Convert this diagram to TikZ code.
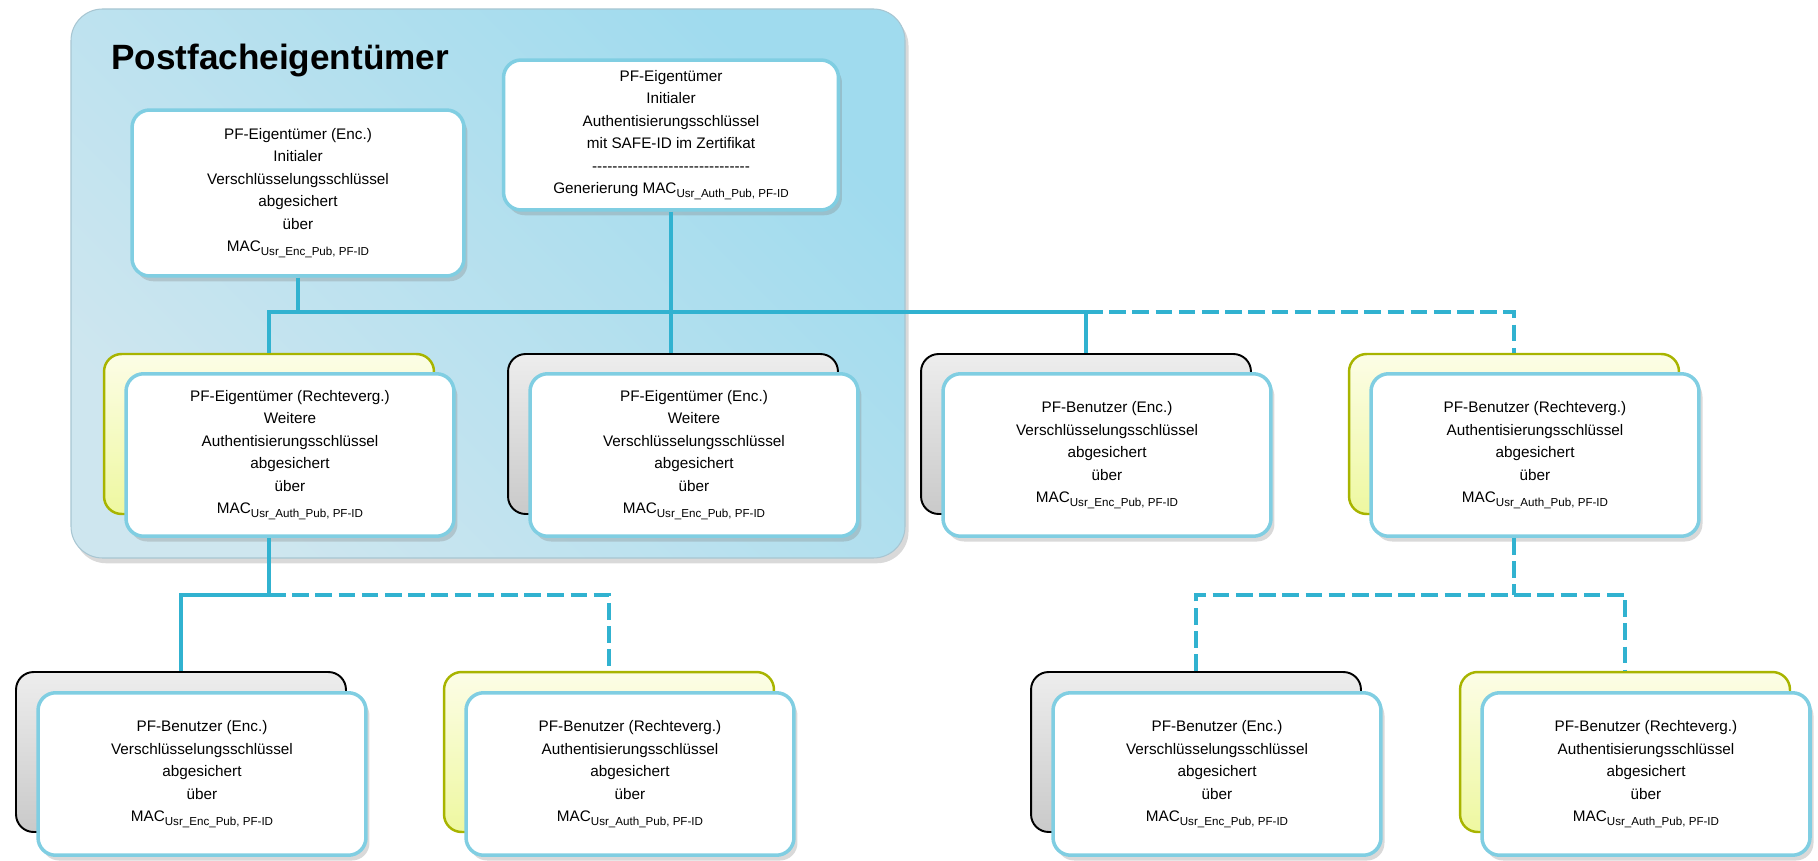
\documentclass[tikz,border=0pt]{standalone}
\usepackage{fontspec}
\setmainfont{Liberation Sans}
\usetikzlibrary{shadows}

\definecolor{linkblue}{RGB}{49,178,208}
\definecolor{cardedge}{RGB}{128,206,226}
\definecolor{yelledge}{RGB}{168,180,0}
\definecolor{yelltop}{RGB}{252,253,230}
\definecolor{yellbot}{RGB}{238,248,160}
\definecolor{grptop}{RGB}{160,219,238}
\definecolor{grpbot}{RGB}{206,230,239}
\definecolor{grpedge}{RGB}{168,198,210}

\newcommand{\macsub}[1]{MAC\raisebox{-0.45ex}{\fontsize{6.6}{7}\selectfont #1}}
\newcommand{\dashrow}{\foreach \n in {1,...,31}{\mbox{-}}}

\begin{document}
\begin{tikzpicture}[x=0.02cm, y=-0.02cm,
  every node/.style={font=\fontsize{8.7}{12.8}\selectfont},
  card/.style={draw=cardedge, line width=2pt, fill=white, rounded corners=10pt,
    minimum width=6.56cm, minimum height=3.25cm, align=center, inner sep=2pt,
    drop shadow={shadow xshift=2pt, shadow yshift=-3pt, opacity=0.3}},
  grayback/.style={draw=black, line width=1.1pt, top color=gray!14, bottom color=gray!42,
    rounded corners=10pt, minimum width=6.6cm, minimum height=3.2cm},
  yellback/.style={draw=yelledge, line width=1.4pt, top color=yelltop, bottom color=yellbot,
    rounded corners=10pt, minimum width=6.6cm, minimum height=3.2cm},
  link/.style={draw=linkblue, line width=2.6pt},
  dashline/.style={dash pattern=on 9.5pt off 3.7pt}]
\useasboundingbox (0,0) rectangle (1818,861);

% Group of the owner
\draw[draw=grpedge, line width=0.6pt, top color=grptop, bottom color=grpbot, shading angle=-45,
  rounded corners=18pt, drop shadow={shadow xshift=2pt, shadow yshift=-3pt, opacity=0.3}]
  (71,9) rectangle (905,558);
\node[anchor=base west, font=\fontsize{20}{24}\selectfont\bfseries] (title) at (105,70) {Postfacheigentümer};

% Initial keys
\node[card, minimum width=6.64cm, minimum height=3.32cm] (initEnc) at (298,193)
  {PF-Eigentümer (Enc.)\\Initialer\\Verschlüsselungsschlüssel\\abgesichert\\über\\\macsub{Usr\_Enc\_Pub, PF-ID}};
\node[card, minimum width=6.7cm, minimum height=3.0cm] (initAuth) at (671,135)
  {PF-Eigentümer\\Initialer\\Authentisierungsschlüssel\\mit SAFE-ID im Zertifikat\\\dashrow\\Generierung \macsub{Usr\_Auth\_Pub, PF-ID}};

% Second row
\node[yellback] (ownAuthBk) at (269,434) {};
\node[card] (ownAuth) at (290,455)
  {PF-Eigentümer (Rechteverg.)\\Weitere\\Authentisierungsschlüssel\\abgesichert\\über\\\macsub{Usr\_Auth\_Pub, PF-ID}};
\node[grayback] (ownEncBk) at (673,434) {};
\node[card] (ownEnc) at (694,455)
  {PF-Eigentümer (Enc.)\\Weitere\\Verschlüsselungsschlüssel\\abgesichert\\über\\\macsub{Usr\_Enc\_Pub, PF-ID}};
\node[grayback] (usrEncBk) at (1086,434) {};
\node[card] (usrEnc) at (1107,455)
  {PF-Benutzer (Enc.)\\Verschlüsselungsschlüssel\\abgesichert\\über\\\macsub{Usr\_Enc\_Pub, PF-ID}};
\node[yellback] (usrAuthBk) at (1514,434) {};
\node[card] (usrAuth) at (1535,455)
  {PF-Benutzer (Rechteverg.)\\Authentisierungsschlüssel\\abgesichert\\über\\\macsub{Usr\_Auth\_Pub, PF-ID}};

% Third row
\node[grayback] (subEncLBk) at (181,752) {};
\node[card] (subEncL) at (202,774)
  {PF-Benutzer (Enc.)\\Verschlüsselungsschlüssel\\abgesichert\\über\\\macsub{Usr\_Enc\_Pub, PF-ID}};
\node[yellback] (subAuthLBk) at (609,752) {};
\node[card] (subAuthL) at (630,774)
  {PF-Benutzer (Rechteverg.)\\Authentisierungsschlüssel\\abgesichert\\über\\\macsub{Usr\_Auth\_Pub, PF-ID}};
\node[grayback] (subEncRBk) at (1196,752) {};
\node[card] (subEncR) at (1217,774)
  {PF-Benutzer (Enc.)\\Verschlüsselungsschlüssel\\abgesichert\\über\\\macsub{Usr\_Enc\_Pub, PF-ID}};
\node[yellback] (subAuthRBk) at (1625,752) {};
\node[card] (subAuthR) at (1646,774)
  {PF-Benutzer (Rechteverg.)\\Authentisierungsschlüssel\\abgesichert\\über\\\macsub{Usr\_Auth\_Pub, PF-ID}};

% Connectors
\coordinate (bus) at (0,312);
\coordinate (low) at (0,595);
\draw[link] (initEnc.south) -- (initEnc.south |- bus);
\draw[link] (initAuth.south) -- (initAuth.south |- ownEncBk.north);
\draw[link] (ownAuthBk.north) -- (ownAuthBk.north |- bus) -- (usrEncBk.north |- bus) -- (usrEncBk.north);
\draw[link, dashline] (usrEncBk.north |- bus) -- (usrAuthBk.north |- bus) -- (usrAuthBk.north);

\draw[link] (ownAuthBk.north |- ownAuth.south) -- (ownAuthBk.north |- low) -- (subEncLBk.north |- low) -- (subEncLBk.north);
\draw[link, dashline] (ownAuthBk.north |- low) -- (subAuthLBk.north |- low) -- (subAuthLBk.north);

\draw[link, dashline] (usrAuthBk.north |- usrAuth.south) -- (usrAuthBk.north |- low);
\draw[link, dashline] (subEncRBk.north) -- (subEncRBk.north |- low) -- (subAuthRBk.north |- low) -- (subAuthRBk.north);
\end{tikzpicture}
\end{document}
